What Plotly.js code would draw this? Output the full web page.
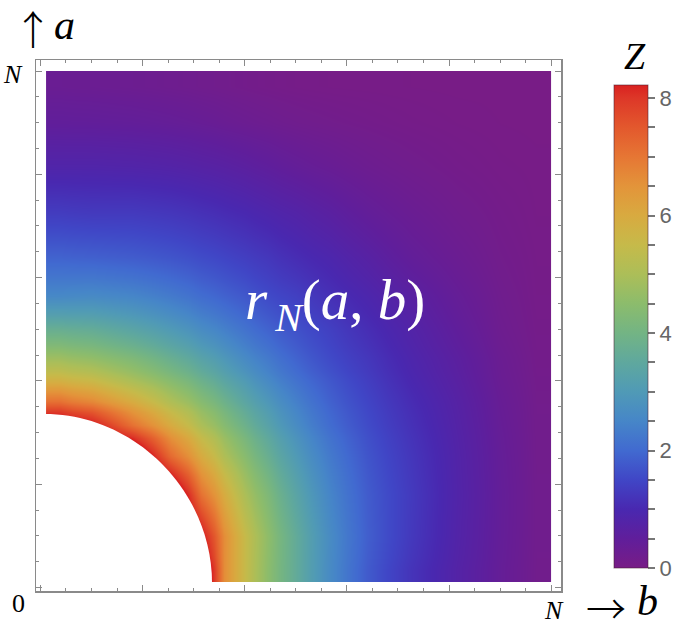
<!DOCTYPE html>
<html>
<head>
<meta charset="utf-8">
<script src="https://cdn.plot.ly/plotly-3.0.1.min.js"></script>
<style>
  html, body { margin: 0; padding: 0; background: #fff; }
  #chart { width: 685px; height: 628px; }
</style>
</head>
<body>
<div id="chart"></div>
<script>
// cell edges along b (x) and a (y), in units of N
const bEdges = [0.011, 0.06, 0.14, 0.22, 0.29, 0.34, 0.38, 0.42, 0.47, 0.53, 0.60, 0.68, 0.77, 0.86, 0.94, 1.0];
const aEdges = [0.011, 0.06, 0.14, 0.22, 0.29, 0.34, 0.38, 0.42, 0.47, 0.53, 0.60, 0.68, 0.77, 0.86, 0.94, 1.0];

// Z, one row per a-cell (bottom to top); cells inside the hole are masked
const zValues = [
    [10, 10, 10, 9.5, 9.3, 6.6, 5.5, 4.5, 3.6, 2.62, 1.78, 1.2, 0.76, 0.4, 0.15],
    [10, 10, 10, 9.5, 8.4, 6.6, 5.5, 4.55, 3.6, 2.64, 1.84, 1.28, 0.8, 0.42, 0.16],
    [10, 10, 10, 9.2, 7.06, 5.94, 5.01, 4.25, 3.36, 2.5, 1.8, 1.3, 0.82, 0.43, 0.16],
    [9.5, 9.5, 9.2, 7.18, 5.96, 5.06, 4.43, 3.75, 3.01, 2.29, 1.7, 1.24, 0.8, 0.41, 0.15],
    [8.9, 8.4, 7.06, 5.96, 5.01, 4.39, 3.86, 3.28, 2.65, 2.05, 1.57, 1.15, 0.76, 0.38, 0.14],
    [7.1, 6.7, 5.94, 5.06, 4.39, 3.87, 3.4, 2.93, 2.4, 1.89, 1.47, 1.07, 0.72, 0.35, 0.13],
    [5.85, 5.6, 5.01, 4.43, 3.86, 3.4, 3.03, 2.6, 2.16, 1.75, 1.37, 0.98, 0.66, 0.31, 0.12],
    [4.8, 4.6, 4.25, 3.75, 3.28, 2.93, 2.6, 2.28, 1.91, 1.56, 1.25, 0.9, 0.6, 0.28, 0.1],
    [3.75, 3.65, 3.36, 3.01, 2.65, 2.4, 2.16, 1.91, 1.66, 1.4, 1.1, 0.8, 0.5, 0.22, 0.08],
    [2.56, 2.6, 2.5, 2.29, 2.05, 1.89, 1.75, 1.56, 1.4, 1.15, 0.92, 0.66, 0.4, 0.18, 0.06],
    [1.9, 1.86, 1.8, 1.7, 1.57, 1.47, 1.37, 1.25, 1.08, 0.92, 0.7, 0.45, 0.28, 0.13, 0.05],
    [1.34, 1.3, 1.3, 1.24, 1.15, 1.07, 1.0, 0.9, 0.79, 0.64, 0.45, 0.3, 0.18, 0.09, 0.03],
    [0.84, 0.84, 0.82, 0.78, 0.72, 0.67, 0.61, 0.53, 0.43, 0.34, 0.24, 0.16, 0.09, 0.04, 0.02],
    [0.48, 0.47, 0.45, 0.41, 0.36, 0.31, 0.27, 0.23, 0.18, 0.14, 0.1, 0.06, 0.03, 0.01, 0],
    [0.3, 0.28, 0.25, 0.21, 0.17, 0.14, 0.11, 0.08, 0.05, 0.03, 0.02, 0.01, 0, 0, 0]
];

const zMin = 0;
const zMax = 8.22;
const holeRadius = 0.336;

// rainbow colour ramp, Z level -> colour
const colorLevels = [0, 0.5, 1, 1.5, 2, 2.5, 3, 3.5, 4, 4.5, 5, 5.5, 6, 6.5, 7, 7.5, 8, 8.22];
const colorValues = [
    'rgb(120,28,134)', 'rgb(96,30,155)', 'rgb(73,40,176)', 'rgb(64,70,198)',
    'rgb(65,106,208)', 'rgb(70,134,200)', 'rgb(80,154,182)', 'rgb(95,168,158)',
    'rgb(115,180,132)', 'rgb(140,188,108)', 'rgb(172,190,88)', 'rgb(198,186,74)',
    'rgb(216,170,64)', 'rgb(227,148,58)', 'rgb(230,118,52)', 'rgb(227,88,45)',
    'rgb(221,55,40)', 'rgb(217,33,32)'
];

const cbTickVals = [0, 0.5, 1, 1.5, 2, 2.5, 3, 3.5, 4, 4.5, 5, 5.5, 6, 6.5, 7, 7.5, 8];
const cbTickText = ['0', '', '', '', '2', '', '', '', '4', '', '', '', '6', '', '', '', '8'];

const colorscale = colorLevels.map((v, i) => [(v - zMin) / (zMax - zMin), colorValues[i]]);

const trace = {
    type: 'heatmap',
    x: bEdges,
    y: aEdges,
    z: zValues,
    zmin: zMin,
    zmax: zMax,
    zsmooth: 'best',
    colorscale: colorscale,
    hoverinfo: 'skip',
    colorbar: {
        x: 1.1015,
        xanchor: 'left',
        y: 0.498,
        yanchor: 'middle',
        xpad: 0,
        ypad: 0,
        thickness: 34,
        thicknessmode: 'pixels',
        len: 483,
        lenmode: 'pixels',
        outlinewidth: 1,
        outlinecolor: 'rgba(70,30,50,0.55)',
        tickmode: 'array',
        tickvals: cbTickVals,
        ticktext: cbTickText,
        ticks: 'outside',
        ticklen: 7,
        tickwidth: 2,
        tickcolor: '#777',
        tickfont: { family: 'Liberation Sans, Arial, sans-serif', size: 22, color: '#666' }
    }
};

// quarter disc where r_N is undefined
const k = 0.5523 * holeRadius;
const holePath = 'M 0.008,0.008 L ' + holeRadius + ',0.008 C ' + holeRadius + ',' + k + ' ' +
    k + ',' + holeRadius + ' 0.008,' + holeRadius + ' Z';

const frameColor = '#8a8a8a';
const axisCommon = {
    showgrid: false,
    zeroline: false,
    showline: true,
    linecolor: frameColor,
    linewidth: 1.5,
    mirror: 'ticks',
    ticks: 'inside',
    tickmode: 'linear',
    tick0: 0,
    dtick: 0.2,
    ticklen: 6,
    tickwidth: 1,
    tickcolor: frameColor,
    showticklabels: false,
    fixedrange: true,
    minor: { tick0: 0, dtick: 0.05, ticks: 'inside', ticklen: 3, tickwidth: 1, tickcolor: frameColor, showgrid: false }
};

const serif = 'Liberation Serif, DejaVu Serif, serif';
const arrowFont = 'Noto Sans CJK JP, Noto Sans CJK SC, DejaVu Sans, sans-serif';
const thin = '\u2009';

function label(text, px, py, size, extra) {
    // position given in page pixels, converted to paper fractions of the 532x531 plot area
    return Object.assign({
        text: text, xref: 'paper', yref: 'paper',
        x: (px - 36) / 532, y: (591 - py) / 531,
        xanchor: 'center', yanchor: 'middle', showarrow: false,
        font: { family: serif, size: size, color: '#000' }
    }, extra || {});
}

const layout = {
    width: 685,
    height: 628,
    margin: { l: 36, r: 117, t: 60, b: 37 },
    paper_bgcolor: '#fff',
    plot_bgcolor: '#fff',
    showlegend: false,
    xaxis: Object.assign({}, axisCommon, { range: [-0.0087, 1.0193] }),
    yaxis: Object.assign({}, axisCommon, { range: [-0.0068, 1.0213] }),
    shapes: [{
        type: 'path',
        xref: 'x',
        yref: 'y',
        path: holePath,
        fillcolor: '#fff',
        line: { width: 0 },
        layer: 'above'
    }],
    annotations: [
        label('<i>r</i><sub>' + thin + '<i>N</i></sub>(<i>a</i>, <i>b</i>)', 339, 304, 57,
            { font: { family: serif, size: 57, color: '#fff' } }),
        label('↑', 33, 28, 40, { font: { family: arrowFont, size: 40, weight: 200, color: '#000' } }),
        label('<i>a</i>', 65, 25, 42),
        label('→', 614, 607, 40, { font: { family: arrowFont, size: 40, weight: 200, color: '#000' } }),
        label('<i>b</i>', 656, 601, 42),
        label('<i>N</i>', 12.5, 74, 26),
        label('<i>N</i>', 561, 610, 26),
        label('0', 18, 603, 26),
        label('<i>Z</i>', 643, 56, 38)
    ]
};

Plotly.newPlot('chart', [trace], layout, { displayModeBar: false, responsive: false, staticPlot: true });
</script>
</body>
</html>
